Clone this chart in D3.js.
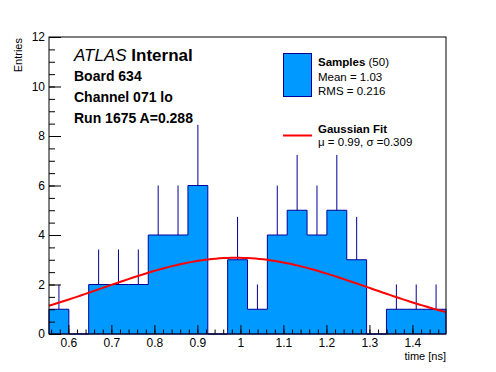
<!DOCTYPE html>
<html>
<head>
  <meta charset="utf-8">
  <script src="https://cdn.jsdelivr.net/npm/d3@7"></script>
<style type="text/css">
  body { margin: 0; background: #fff; }
  text { font-family: "Liberation Sans", Arial, Helvetica, sans-serif; fill: #000; }
</style>
</head>
<body>
<script>
  // histogram: 20 bins between xMin and xMax
  var xMin = 0.555, xMax = 1.478;
  var counts = [1, 0, 2, 2, 2, 4, 4, 6, 0, 3, 1, 4, 5, 4, 5, 3, 0, 1, 1, 1];
  var xTicks = [0.6, 0.7, 0.8, 0.9, 1.0, 1.1, 1.2, 1.3, 1.4];
  var yTicks = [0, 2, 4, 6, 8, 10, 12];
  // gaussian fit parameters
  var fitAmp = 3.08, fitMean = 0.99, fitSigma = 0.309;
  var infoLines = ["Board 634", "Channel 071 lo", "Run 1675 A=0.288"];

  var w = 496, h = 372;
  var pL = 49, pR = 446, pT = 37, pB = 334;

  var svg = d3.select("body").append("svg")
              .attr("width", w).attr("height", h);
  svg.append("rect").attr("width", w).attr("height", h).attr("fill", "#fff");

  var x = d3.scaleLinear().domain([xMin, xMax]).range([pL, pR]);
  var y = d3.scaleLinear().domain([0, 12]).range([pB, pT]);

  var nBins = counts.length;
  var bw = (xMax - xMin) / nBins;
  var bins = counts.map(function (c, i) {
    return { lo: xMin + i * bw, hi: xMin + (i + 1) * bw, n: c };
  });

  // error bars (drawn under the filled histogram, like ROOT)
  svg.selectAll("line.err")
     .data(bins.filter(function (d) { return d.n > 0; }))
     .enter().append("line")
     .attr("class", "err")
     .attr("x1", function (d) { return x((d.lo + d.hi) / 2); })
     .attr("x2", function (d) { return x((d.lo + d.hi) / 2); })
     .attr("y1", function (d) { return y(Math.max(0, d.n - Math.sqrt(d.n))); })
     .attr("y2", function (d) { return y(d.n + Math.sqrt(d.n)); })
     .attr("stroke", "#000099").attr("stroke-width", 1);

  // step outline of the histogram
  var pts = [[xMin, 0]];
  bins.forEach(function (d) { pts.push([d.lo, d.n]); pts.push([d.hi, d.n]); });
  pts.push([xMax, 0]);
  var step = d3.line().x(function (d) { return x(d[0]); }).y(function (d) { return y(d[1]); });
  svg.append("path")
     .attr("d", step(pts) + "Z")
     .attr("fill", "#0099ff")
     .attr("stroke", "#000099")
     .attr("stroke-width", 1);

  // gaussian fit curve
  var fx = d3.range(0, 101).map(function (i) { return xMin + i * (xMax - xMin) / 100; });
  var gauss = function (v) {
    return fitAmp * Math.exp(-0.5 * Math.pow((v - fitMean) / fitSigma, 2));
  };
  svg.append("path")
     .attr("d", d3.line().x(function (v) { return x(v); }).y(function (v) { return y(gauss(v)); })(fx))
     .attr("fill", "none")
     .attr("stroke", "#ff0000")
     .attr("stroke-width", 2);

  // frame
  svg.append("rect")
     .attr("x", pL).attr("y", pT)
     .attr("width", pR - pL).attr("height", pB - pT)
     .attr("fill", "none").attr("stroke", "#000").attr("stroke-width", 1);

  // axes, ticks pointing inward
  var fmt = function (d) { return String(+d.toFixed(1)); };
  var yMinor = d3.range(0, 12.01, 0.5);
  var xMinor = d3.range(0.56, 1.47, 0.02);

  svg.append("g").attr("transform", "translate(" + pL + ",0)")
    .call(d3.axisLeft(y).tickValues(yTicks).tickSize(-12).tickPadding(4).tickFormat(fmt));
  svg.append("g").attr("transform", "translate(" + pL + ",0)")
    .call(d3.axisLeft(y).tickValues(yMinor).tickSize(-6).tickFormat(""));

  svg.append("g").attr("transform", "translate(0," + pB + ")")
    .call(d3.axisBottom(x).tickValues(xTicks).tickSize(-9).tickPadding(4).tickFormat(fmt));
  svg.append("g").attr("transform", "translate(0," + pB + ")")
    .call(d3.axisBottom(x).tickValues(xMinor).tickSize(-4.5).tickFormat(""));

  svg.selectAll(".domain").remove();
  svg.selectAll(".tick line").attr("stroke", "#000");
  svg.selectAll(".tick text")
     .style("font-family", "'Liberation Sans', Arial, sans-serif")
     .style("font-size", "12px").attr("fill", "#000");

  // axis titles
  svg.append("text")
     .attr("transform", "translate(22," + (pT + 1) + ") rotate(-90)")
     .attr("text-anchor", "end")
     .style("font-size", "11px")
     .text("Entries");
  svg.append("text")
     .attr("x", pR).attr("y", 360)
     .attr("text-anchor", "end")
     .style("font-size", "11px")
     .text("time [ns]");

  // ATLAS label
  var atl = svg.append("text").attr("x", 74).attr("y", 61).style("font-size", "17px");
  atl.append("tspan").style("font-style", "italic").text("ATLAS");
  atl.append("tspan").style("font-weight", "bold").text(" Internal");

  svg.selectAll("text.info")
     .data(infoLines)
     .enter().append("text")
     .attr("class", "info")
     .attr("x", 74)
     .attr("y", function (d, i) { return 81 + i * 21; })
     .style("font-size", "14px")
     .style("font-weight", "bold")
     .text(function (d) { return d; });

  // legend
  var lg = svg.append("g");
  lg.append("rect")
    .attr("x", 283.5).attr("y", 53.5).attr("width", 28).attr("height", 43)
    .attr("fill", "#0099ff").attr("stroke", "#000099");
  var t1 = lg.append("text").attr("x", 318).attr("y", 66).style("font-size", "11.5px");
  t1.append("tspan").style("font-weight", "bold").text("Samples");
  t1.append("tspan").text(" (50)");
  lg.append("text").attr("x", 318).attr("y", 80.5).style("font-size", "11.5px").text("Mean = 1.03");
  lg.append("text").attr("x", 318).attr("y", 94.5).style("font-size", "11.5px").text("RMS = 0.216");

  lg.append("line")
    .attr("x1", 283).attr("x2", 312).attr("y1", 135.5).attr("y2", 135.5)
    .attr("stroke", "#ff0000").attr("stroke-width", 2);
  lg.append("text").attr("x", 318).attr("y", 133).style("font-size", "11.5px")
    .style("font-weight", "bold").text("Gaussian Fit");
  lg.append("text").attr("x", 318).attr("y", 146).style("font-size", "11.5px")
    .text("\u03bc = 0.99, \u03c3 =0.309");
</script>
</body>
</html>
